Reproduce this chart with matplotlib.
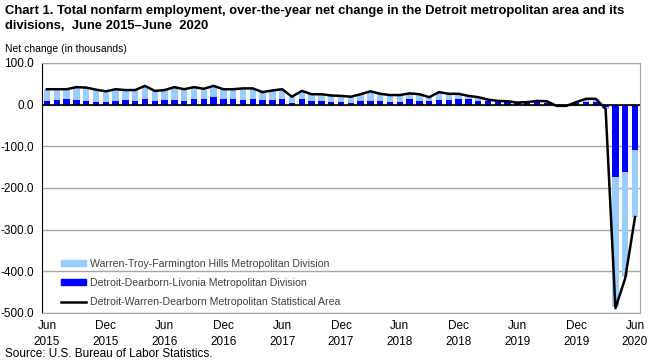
import numpy as np
import matplotlib.pyplot as plt
from matplotlib.patches import Patch
from matplotlib.lines import Line2D

plt.rcParams['font.family'] = ['Liberation Sans', 'DejaVu Sans']

# over-the-year net change, in thousands, June 2015 - June 2020
months = ['Jun\n2015', '', '', '', '', '', 'Dec\n2015', '', '', '', '', '',
          'Jun\n2016', '', '', '', '', '', 'Dec\n2016', '', '', '', '', '',
          'Jun\n2017', '', '', '', '', '', 'Dec\n2017', '', '', '', '', '',
          'Jun\n2018', '', '', '', '', '', 'Dec\n2018', '', '', '', '', '',
          'Jun\n2019', '', '', '', '', '', 'Dec\n2019', '', '', '', '', '',
          'Jun\n2020']

detroit_dearborn = [8, 10, 13, 10, 8, 6, 6, 8, 10, 8, 13, 8, 10, 10, 8, 13, 13, 18, 13, 13,
                    10, 13, 10, 10, 13, 3, 13, 8, 8, 6, 6, 4, 8, 8, 8, 6, 6, 13, 8, 8,
                    10, 10, 13, 13, 8, 8, 6, 6, 4, 6, 6, 4, -2, -2, 4, 6, 6, -5, -174, -162,
                    -110]

warren_troy = [29, 27, 24, 32, 33, 30, 26, 29, 25, 27, 32, 25, 25, 32, 29, 29, 22, 27, 24, 24,
               29, 26, 20, 24, 24, 16, 20, 17, 17, 16, 15, 15, 17, 24, 18, 17, 17, 14, 17, 10,
               20, 16, 13, 8, 10, 4, 3, 2, -3, 1, 3, 4, -1, -1, 2, 8, 8, -5, -313, -253,
               -160]

msa = [37, 37, 37, 42, 41, 36, 32, 37, 35, 35, 45, 33, 35, 42, 37, 42, 38, 45, 37, 37,
       39, 39, 30, 34, 37, 19, 33, 25, 25, 22, 21, 19, 25, 32, 26, 23, 23, 27, 25, 18,
       30, 26, 26, 21, 18, 12, 9, 8, 5, 6, 9, 8, -3, -3, 6, 14, 14, -10, -489, -417,
       -270]

light = '#99ccff'
dark = '#0000ff'

x = np.arange(len(months))
dd = np.array(detroit_dearborn)
wt = np.array(warren_troy)
# stack the light bar on the dark one when both go the same way
wt_bottom = np.where(np.sign(dd) == np.sign(wt), dd, 0)

fig = plt.figure(figsize=(6.57, 3.61), dpi=100)
ax = fig.add_axes([0.064, 0.1335, 0.91, 0.692])

ax.bar(x, dd, width=0.66, color=dark, zorder=2)
ax.bar(x, wt, width=0.66, bottom=wt_bottom, color=light, zorder=2)
ax.plot(x, msa, color='black', lw=1.8, zorder=3)

ax.set_xlim(-0.5, len(months) - 0.5)
ax.set_ylim(-500, 100)
ax.set_yticks(np.arange(-500, 101, 100))
ax.set_yticklabels(['%.1f' % v for v in np.arange(-500, 101, 100)], fontsize=8.5)
ax.yaxis.grid(True, color='#a6a6a6', lw=1)
ax.set_axisbelow(True)
ax.axhline(0, color='black', lw=1.2, zorder=2.5)

ax.set_xticks(x[::6])
ax.set_xticklabels(months[::6], fontsize=8.5, linespacing=1.5)
ax.tick_params(axis='x', length=0, pad=5)
ax.tick_params(axis='y', length=0, pad=6)

for s in ['top', 'right', 'bottom']:
    ax.spines[s].set_color('#a6a6a6')
ax.spines['left'].set_color('black')

handles = [Patch(color=light), Patch(color=dark), Line2D([], [], color='black', lw=1.8)]
labels = ['Warren-Troy-Farmington Hills Metropolitan Division',
          'Detroit-Dearborn-Livonia Metropolitan Division',
          'Detroit-Warren-Dearborn Metropolitan Statistical Area']
leg = ax.legend(handles, labels, loc='lower left', bbox_to_anchor=(0.015, -0.015), frameon=False,
                fontsize=7.6, handlelength=2.4, handleheight=0.5, handletextpad=0.4,
                labelspacing=0.85, labelcolor='#404040')

fig.text(0.008, 0.985, 'Chart 1. Total nonfarm employment, over-the-year net change in the Detroit metropolitan area and its\n'
         'divisions,  June 2015\u2013June  2020', fontsize=9.4, fontweight='bold', va='top', linespacing=1.3)
fig.text(0.008, 0.855, 'Net change (in thousands)', fontsize=7.5)
fig.text(0.008, 0.012, 'Source: U.S. Bureau of Labor Statistics.', fontsize=8.5)

fig.savefig('out.png', dpi=100)
